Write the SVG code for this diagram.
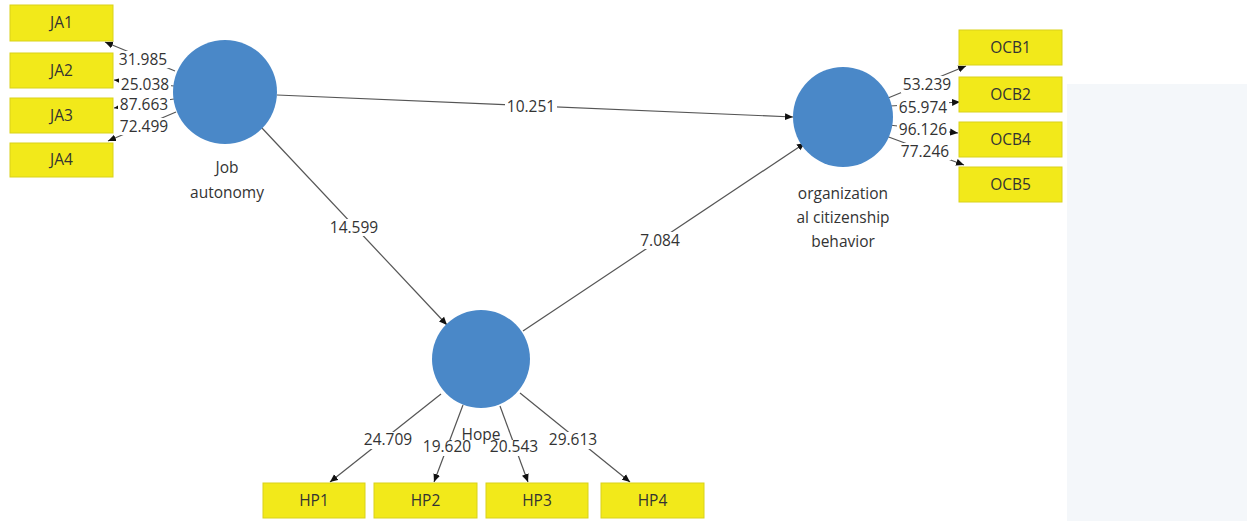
<svg xmlns="http://www.w3.org/2000/svg" width="1247" height="521" viewBox="0 0 1247 521">
<style>
text{font-family:"Segoe UI","Open Sans","Liberation Sans",sans-serif;font-size:15.5px;fill:#333;text-anchor:middle}
.box{fill:#f2e91a;stroke:#d9d21a;stroke-width:1}
.lv{fill:#4a88c8}
.ln{stroke:#555;stroke-width:1.2;fill:none;marker-end:url(#ah)}
.bg{fill:#fff}
</style>
<defs>
<marker id="ah" markerWidth="8" markerHeight="8" refX="8" refY="4" orient="auto" markerUnits="userSpaceOnUse">
<path d="M0,0.5 L8,4 L0,7.5 Z" fill="#111"/>
</marker>
</defs>
<rect width="1247" height="521" fill="#fff"/>
<rect x="1067" y="84" width="180" height="437" fill="#f4f7fa"/>
<g id="connectors">
<line class="ln" x1="175" y1="71" x2="105" y2="42"/>
<line class="ln" x1="174" y1="86" x2="114" y2="80"/>
<line class="ln" x1="174" y1="99" x2="114" y2="108"/>
<line class="ln" x1="176" y1="112" x2="108" y2="141"/>
<line class="ln" x1="888" y1="98" x2="966" y2="66"/>
<line class="ln" x1="890" y1="106" x2="960" y2="102"/>
<line class="ln" x1="889" y1="125" x2="958" y2="133"/>
<line class="ln" x1="886" y1="136" x2="964" y2="165"/>
<line class="ln" x1="277" y1="95" x2="793" y2="117"/>
<line class="ln" x1="261" y1="127" x2="447" y2="325"/>
<line class="ln" x1="523" y1="331" x2="805" y2="143"/>
<line class="ln" x1="441" y1="394" x2="330" y2="482"/>
<line class="ln" x1="463" y1="405" x2="434" y2="482"/>
<line class="ln" x1="500" y1="406" x2="528" y2="482"/>
<line class="ln" x1="520" y1="393" x2="630" y2="482"/>
<rect class="bg" x="117" y="51" width="52" height="17"/><text x="143" y="65">31.985</text>
<rect class="bg" x="119" y="76" width="52" height="17"/><text x="145" y="90">25.038</text>
<rect class="bg" x="118" y="96" width="52" height="17"/><text x="144" y="110">87.663</text>
<rect class="bg" x="118" y="118" width="52" height="17"/><text x="144" y="132">72.499</text>
<rect class="bg" x="901" y="76" width="52" height="17"/><text x="927" y="90">53.239</text>
<rect class="bg" x="897" y="99" width="52" height="17"/><text x="923" y="113">65.974</text>
<rect class="bg" x="897" y="121" width="52" height="17"/><text x="923" y="135">96.126</text>
<rect class="bg" x="899" y="143" width="52" height="17"/><text x="925" y="157">77.246</text>
<rect class="bg" x="505" y="98" width="52" height="17"/><text x="531" y="112">10.251</text>
<rect class="bg" x="328" y="219" width="52" height="17"/><text x="354" y="233">14.599</text>
<rect class="bg" x="639" y="232" width="43" height="17"/><text x="660" y="246">7.084</text>
</g>
<g id="JA1"><rect class="box" x="10" y="5" width="103" height="36"/><text x="61.5" y="28">JA1</text></g>
<g id="JA2"><rect class="box" x="10" y="53" width="103" height="35"/><text x="61.5" y="76">JA2</text></g>
<g id="JA3"><rect class="box" x="10" y="98" width="103" height="35"/><text x="61.5" y="121">JA3</text></g>
<g id="JA4"><rect class="box" x="10" y="143" width="103" height="34"/><text x="61.5" y="165">JA4</text></g>
<g id="OCB1"><rect class="box" x="959" y="30" width="103" height="35"/><text x="1010.5" y="53">OCB1</text></g>
<g id="OCB2"><rect class="box" x="959" y="77" width="103" height="35"/><text x="1010.5" y="100">OCB2</text></g>
<g id="OCB4"><rect class="box" x="959" y="122" width="103" height="35"/><text x="1010.5" y="145">OCB4</text></g>
<g id="OCB5"><rect class="box" x="959" y="167" width="103" height="35"/><text x="1010.5" y="190">OCB5</text></g>
<g id="HP1"><rect class="box" x="263" y="483" width="102" height="35"/><text x="314" y="506">HP1</text></g>
<g id="HP2"><rect class="box" x="374" y="483" width="103" height="35"/><text x="425.5" y="506">HP2</text></g>
<g id="HP3"><rect class="box" x="486" y="483" width="102" height="35"/><text x="537" y="506">HP3</text></g>
<g id="HP4"><rect class="box" x="601" y="483" width="103" height="35"/><text x="652.5" y="506">HP4</text></g>
<g id="JobAutonomy"><circle class="lv" cx="225" cy="92" r="52"/><text x="227" y="173">Job</text><text x="227" y="198">autonomy</text></g>
<g id="OCB"><circle class="lv" cx="843" cy="117" r="50"/><text x="843" y="199">organization</text><text x="843" y="223">al citizenship</text><text x="843" y="247">behavior</text></g>
<g id="Hope"><circle class="lv" cx="481" cy="359" r="49"/><text x="481" y="440">Hope</text></g>
<g id="hp-labels">
<rect class="bg" x="362" y="432" width="52" height="17"/><text x="388" y="445">24.709</text>
<rect class="bg" x="421" y="440" width="52" height="16"/><text x="447" y="452">19.620</text>
<rect class="bg" x="488" y="440" width="52" height="16"/><text x="514" y="452">20.543</text>
<rect class="bg" x="547" y="432" width="52" height="17"/><text x="573" y="445">29.613</text>
</g>
</svg>
